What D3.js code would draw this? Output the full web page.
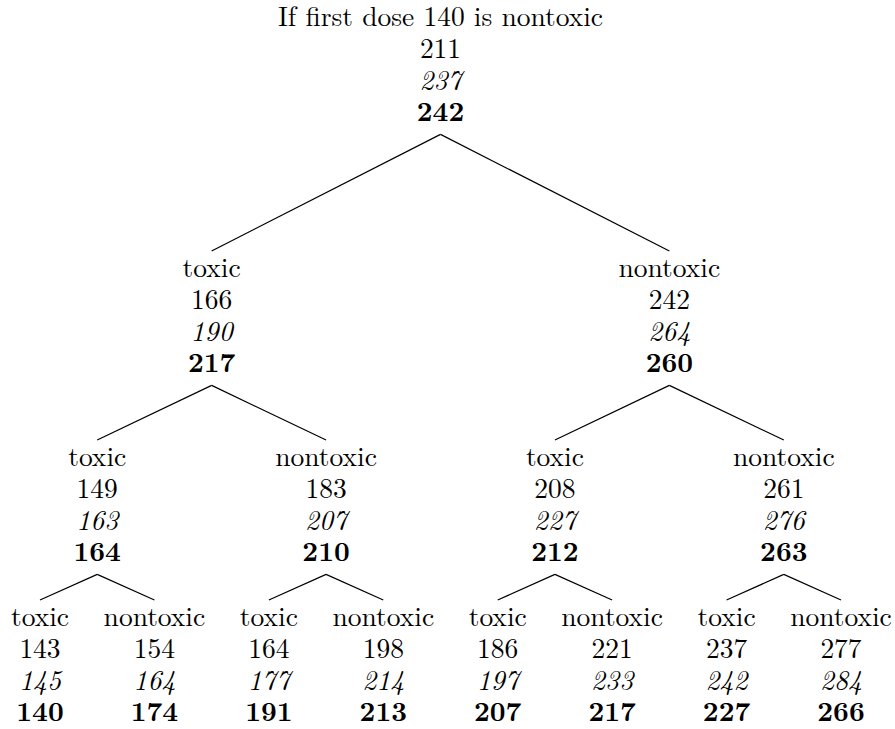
<!DOCTYPE html>
<html>
<head>
<meta charset="utf-8">
<script src="https://cdn.jsdelivr.net/npm/d3@7"></script>
<style>
  html, body { margin: 0; padding: 0; background: #fff; }
  svg { display: block; }
</style>
</head>
<body>
<div id="chart"></div>
<script>
// Nodes in breadth-first order (node i has children 2i+1 and 2i+2)
const nodeLabels = [
    'If first dose 140 is nontoxic',
    'toxic', 'nontoxic',
    'toxic', 'nontoxic', 'toxic', 'nontoxic',
    'toxic', 'nontoxic', 'toxic', 'nontoxic', 'toxic', 'nontoxic', 'toxic', 'nontoxic'
];
const plainValues  = [211, 166, 242, 149, 183, 208, 261, 143, 154, 164, 198, 186, 221, 237, 277];
const italicValues = [237, 190, 264, 163, 207, 227, 276, 145, 164, 177, 214, 197, 233, 242, 284];
const boldValues   = [242, 217, 260, 164, 210, 212, 263, 140, 174, 191, 213, 207, 217, 227, 266];

const width = 895;
const height = 729;
const fontFamily = '"Latin Modern Roman", "Liberation Serif", serif';
const fontSize = 27.5;
const lineGap = 31.8;

const svg = d3.select('#chart').append('svg')
    .attr('width', width)
    .attr('height', height);

// Build the hierarchy from heap indexing
const root = d3.hierarchy(0, i => {
    const kids = [2 * i + 1, 2 * i + 2].filter(k => k < nodeLabels.length);
    return kids.length ? kids : null;
});

d3.tree().nodeSize([1, 1]).separation(() => 1)(root);

const leaves = root.leaves();
const xScale = d3.scaleLinear()
    .domain(d3.extent(leaves, d => d.x))
    .range([40, 841]);

// baseline of the first line of each level
const yScale = d3.scaleOrdinal()
    .domain([0, 1, 2, 3])
    .range([26, 277, 466, 626]);

const rows = [
    { get: i => nodeLabels[i], style: 'normal', weight: 'normal' },
    { get: i => plainValues[i], style: 'normal', weight: 'normal' },
    { get: i => italicValues[i], style: 'italic', weight: 'normal' },
    { get: i => boldValues[i], style: 'normal', weight: 'bold' }
];

const topOf = d => yScale(d.depth) - 26;
const bottomOf = d => yScale(d.depth) + 3 * lineGap + 13;

// edges
svg.append('g')
    .attr('class', 'links')
    .selectAll('line')
    .data(root.links())
    .join('line')
    .attr('x1', d => xScale(d.source.x))
    .attr('y1', d => bottomOf(d.source))
    .attr('x2', d => xScale(d.target.x))
    .attr('y2', d => topOf(d.target))
    .attr('stroke', '#000')
    .attr('stroke-width', 1.2);

// node text blocks
const nodes = svg.append('g')
    .attr('class', 'nodes')
    .selectAll('g')
    .data(root.descendants())
    .join('g')
    .attr('transform', d => `translate(${xScale(d.x)}, ${yScale(d.depth)})`);

rows.forEach((row, r) => {
    nodes.append('text')
        .attr('y', r * lineGap)
        .attr('text-anchor', 'middle')
        .style('font-family', fontFamily)
        .style('font-size', fontSize + 'px')
        .style('font-style', row.style)
        .style('font-weight', row.weight)
        .style('fill', '#000')
        .text(d => row.get(d.data));
});
</script>
</body>
</html>
